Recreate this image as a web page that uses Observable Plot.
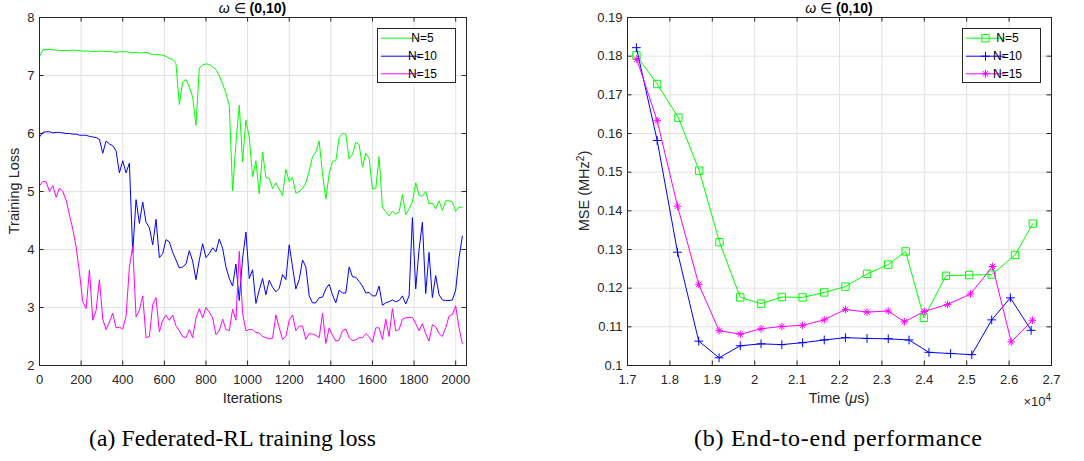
<!DOCTYPE html>
<html><head><meta charset="utf-8">
<script src="https://cdn.jsdelivr.net/npm/d3@7"></script>
<script src="https://cdn.jsdelivr.net/npm/@observablehq/plot@0.6"></script>
<style>
body{margin:0;background:#fff;}
#fig{position:relative;width:1084px;height:461px;overflow:hidden;background:#fff;}
#fig svg{position:absolute;top:0;}
</style></head><body><div id="fig"></div>
<script>
// ---------- data ----------
const seriesNames = ["N=5", "N=10", "N=15"];
const seriesColors = ["#00ff00", "#0000ff", "#ff00ff"];

const iterations = [0,16,32,48,64,80,96,112,128,144,
160,176,192,208,224,240,256,272,288,304,
320,336,352,368,384,400,416,432,448,464,
480,496,512,528,544,560,576,592,608,624,
640,656,672,688,704,720,736,752,768,784,
800,816,832,848,864,880,896,912,928,944,
960,976,992,1008,1024,1040,1056,1072,1088,1104,
1120,1136,1152,1168,1184,1200,1216,1232,1248,1264,
1280,1296,1312,1328,1344,1360,1376,1392,1408,1424,
1440,1456,1472,1488,1504,1520,1536,1552,1568,1584,
1600,1616,1632,1648,1664,1680,1696,1712,1728,1744,
1760,1776,1792,1808,1824,1840,1856,1872,1888,1904,
1920,1936,1952,1968,1984,2000,2016,2032];

const lossN5 = [7.33,7.44,7.45,7.45,7.44,7.44,7.43,7.43,7.43,7.43,
7.44,7.43,7.43,7.42,7.42,7.42,7.41,7.41,7.42,7.42,
7.41,7.41,7.41,7.40,7.41,7.41,7.41,7.40,7.39,7.40,
7.39,7.39,7.40,7.38,7.36,7.36,7.36,7.35,7.33,7.29,
7.28,7.20,6.50,6.89,6.93,6.80,6.63,6.14,7.13,7.18,
7.20,7.19,7.15,7.10,7.00,6.85,6.70,6.48,5.01,5.83,
6.49,5.51,6.23,5.94,5.25,5.53,4.96,5.68,5.24,5.23,
5.05,5.15,5.04,4.93,5.38,5.17,5.24,4.97,5.00,5.05,
5.15,5.35,5.60,5.68,5.87,5.30,4.87,5.30,5.52,5.53,
5.93,6.00,5.99,5.56,5.64,5.85,5.81,5.42,5.66,5.57,
5.04,5.05,5.60,4.73,4.65,4.58,4.66,4.61,4.65,4.95,
4.60,4.70,4.82,5.15,4.93,4.92,5.00,4.79,4.80,4.70,
4.84,4.67,4.84,4.84,4.82,4.66,4.73,4.73];

const lossN10 = [5.94,6.02,6.03,6.03,6.01,6.02,6.02,6.01,6.00,6.00,
5.99,5.99,5.97,5.97,5.97,5.95,5.94,5.93,5.90,5.66,
5.87,5.82,5.79,5.70,5.32,5.53,5.32,5.49,3.95,4.86,
4.45,4.82,4.47,4.38,4.08,4.52,3.86,3.93,4.17,4.13,
3.95,3.82,3.68,3.70,3.75,3.98,3.80,3.48,3.82,4.10,
3.86,3.93,4.03,3.96,4.18,4.02,3.70,3.50,3.37,3.75,
3.12,3.85,4.30,3.50,3.65,3.07,3.30,3.50,3.22,3.47,
3.35,3.27,3.33,3.57,3.48,4.08,3.70,3.32,3.48,3.82,
3.70,3.20,3.08,3.08,3.17,3.18,3.32,3.40,3.22,3.08,
3.30,3.25,3.25,3.70,3.53,3.52,3.45,3.37,3.25,3.26,
3.20,3.20,3.37,3.04,3.08,3.10,3.13,3.10,3.12,3.20,
3.06,3.20,4.55,3.32,4.00,4.47,3.24,3.95,3.17,3.55,
3.22,3.13,3.12,3.12,3.13,3.30,3.85,4.23];

const lossN15 = [5.10,5.17,5.17,5.00,5.10,4.90,5.06,5.00,4.85,4.60,
4.35,4.05,3.60,3.10,2.98,3.65,2.78,2.95,3.48,2.80,
2.62,2.75,2.90,2.65,2.66,2.63,2.85,3.70,4.05,2.84,
2.95,3.20,2.48,2.50,3.05,3.17,2.58,2.78,2.87,2.78,
2.87,2.68,2.60,2.50,2.48,2.62,2.48,2.82,2.98,2.82,
3.00,2.92,2.82,2.53,2.60,2.80,2.62,2.60,2.97,2.78,
3.97,2.90,2.60,2.62,2.62,2.57,2.56,2.50,2.48,2.46,
2.47,2.87,2.65,2.45,2.50,2.78,2.87,2.60,2.68,2.68,
2.45,2.55,2.54,2.52,2.48,2.90,2.38,2.65,2.52,2.42,
2.44,2.60,2.63,2.48,2.43,2.44,2.48,2.48,2.55,2.50,
2.40,2.65,2.65,2.45,2.80,2.50,2.98,2.60,2.62,2.80,
2.82,2.83,2.83,2.72,2.60,2.72,2.55,2.42,2.70,2.67,
2.55,2.50,2.65,2.85,2.88,3.03,2.65,2.38];

// time in units of 10^4 microseconds
const timeN5 = [1.721,1.770,1.820,1.869,1.917,1.966,2.015,2.064,2.113,2.164,2.214,2.265,2.315,2.356,2.399,2.451,2.506,2.559,2.614,2.656];
const mseN5 = [0.1802,0.1728,0.1641,0.1504,0.1319,0.1176,0.1160,0.1177,0.1176,0.1189,0.1204,0.1237,0.1261,0.1295,0.1123,0.1232,0.1234,0.1235,0.1286,0.1367];
const timeN10 = [1.721,1.770,1.818,1.868,1.916,1.966,2.015,2.064,2.113,2.164,2.214,2.265,2.315,2.364,2.411,2.462,2.512,2.559,2.603,2.652];
const mseN10 = [0.1822,0.1582,0.1293,0.1063,0.1020,0.1051,0.1056,0.1054,0.1059,0.1066,0.1072,0.1070,0.1069,0.1066,0.1034,0.1031,0.1028,0.1118,0.1175,0.1091];
const timeN15 = [1.722,1.770,1.818,1.868,1.916,1.966,2.015,2.064,2.113,2.164,2.214,2.265,2.315,2.353,2.400,2.455,2.509,2.561,2.605,2.655];
const mseN15 = [0.1792,0.1633,0.1412,0.1210,0.1090,0.1081,0.1095,0.1101,0.1104,0.1118,0.1145,0.1138,0.1141,0.1113,0.1140,0.1158,0.1185,0.1256,0.1061,0.1117];

const lossXTicks = [0,200,400,600,800,1000,1200,1400,1600,1800,2000];
const lossYTicks = [2,3,4,5,6,7,8];
const timeXTicks = [1.7,1.8,1.9,2.0,2.1,2.2,2.3,2.4,2.5,2.6,2.7];
const mseYTicks = [0.10,0.11,0.12,0.13,0.14,0.15,0.16,0.17,0.18,0.19];

const titleParts = [["ω", "italic", "normal"], [" ∈ ", "normal", "normal"], ["(0,10)", "normal", "bold"]];
const captionA = "(a) Federated-RL training loss";
const captionB = "(b) End-to-end performance";

// ---------- styling helpers ----------
const ink = "#262626";
const gridColor = "#e2e2e2";
const sans = "'Liberation Sans', Arial, Helvetica, sans-serif";
const H = 410, mT = 17, mB = 45;
const fh = H - mT - mB;
const tickLen = 4.5;

const half = size => Math.sqrt(size / Math.PI);
const symSquare = {draw(c, size) { const h = half(size); c.moveTo(-h, -h); c.lineTo(h, -h); c.lineTo(h, h); c.lineTo(-h, h); c.closePath(); }};
const symPlus = {draw(c, size) { const h = half(size); c.moveTo(-h, 0); c.lineTo(h, 0); c.moveTo(0, -h); c.lineTo(0, h); }};
const symStar = {draw(c, size) { const h = half(size), d = h * Math.SQRT1_2;
  c.moveTo(-h, 0); c.lineTo(h, 0); c.moveTo(0, -h); c.lineTo(0, h);
  c.moveTo(-d, -d); c.lineTo(d, d); c.moveTo(-d, d); c.lineTo(d, -d); }};
const markerSymbols = [symSquare, symPlus, symStar];
const markerR = [3.7, 4.4, 3.8];

function gridMarks(xTicks, yTicks) {
  return [
    Plot.ruleX(xTicks, {stroke: gridColor, strokeWidth: 1}),
    Plot.ruleY(yTicks, {stroke: gridColor, strokeWidth: 1})
  ];
}
function boxMarks(xTicks, yTicks, fw, xFmt, yFmt) {
  return [
    Plot.frame({stroke: ink, strokeWidth: 1}),
    Plot.ruleX(xTicks, {stroke: ink, insetTop: fh - tickLen}),
    Plot.ruleX(xTicks, {stroke: ink, insetBottom: fh - tickLen}),
    Plot.ruleY(yTicks, {stroke: ink, insetRight: fw - tickLen}),
    Plot.ruleY(yTicks, {stroke: ink, insetLeft: fw - tickLen}),
    Plot.axisX({ticks: xTicks, tickSize: 0, tickPadding: 9, tickFormat: xFmt, label: null}),
    Plot.axisY({ticks: yTicks, tickSize: 0, tickPadding: 5, tickFormat: yFmt, label: null})
  ];
}

function addTitle(svg, cx) {
  const t = d3.select(svg).append("text").attr("x", cx).attr("y", 13)
    .attr("text-anchor", "middle").attr("font-size", 14).attr("fill", "#000");
  titleParts.forEach(([s, st, w]) => t.append("tspan").attr("font-style", st).attr("font-weight", w).text(s));
}
function addLegend(svg, right, top, w, h, withMarkers) {
  const g = d3.select(svg).append("g");
  const x0 = right - w, y0 = top;
  g.append("rect").attr("x", x0 + 0.5).attr("y", y0 + 0.5).attr("width", w).attr("height", h)
    .attr("fill", "#fff").attr("stroke", ink).attr("stroke-width", 1);
  const rows = [10.2, 28.2, 45.8];
  seriesNames.forEach((name, i) => {
    const y = y0 + rows[i];
    g.append("line").attr("x1", x0 + 4).attr("x2", x0 + 43).attr("y1", y).attr("y2", y)
      .attr("stroke", seriesColors[i]).attr("stroke-width", 1);
    if (withMarkers) {
      const p = d3.path();
      markerSymbols[i].draw(p, Math.PI * markerR[i] * markerR[i]);
      g.append("path").attr("transform", `translate(${x0 + 23.5},${y})`).attr("d", p.toString())
        .attr("fill", "none").attr("stroke", seriesColors[i]).attr("stroke-width", 1);
    }
    g.append("text").attr("x", x0 + 45.5).attr("y", y).attr("dy", "0.35em")
      .attr("font-size", 12).attr("fill", "#000").text(name);
  });
}

const fig = document.getElementById("fig");

// ---------- (a) training loss ----------
{
  const W = 540, mL = 39, mR = 74, fw = W - mL - mR;
  const lossSeries = [lossN5, lossN10, lossN15];
  const svg = Plot.plot({
    width: W, height: H, marginLeft: mL, marginRight: mR, marginTop: mT, marginBottom: mB,
    style: {fontFamily: sans, fontSize: "13px", color: ink, background: "transparent", overflow: "visible"},
    x: {domain: [0, 2052]},
    y: {domain: [2, 8]},
    marks: [
      ...gridMarks(lossXTicks, lossYTicks),
      ...lossSeries.map((vals, k) => Plot.line(iterations, {
        x: d => d, y: (d, i) => vals[i], stroke: seriesColors[k], strokeWidth: 1})),
      ...boxMarks(lossXTicks, lossYTicks, fw, d => String(d), d => String(d))
    ]
  });
  svg.style.left = "0px";
  fig.appendChild(svg);
  addTitle(svg, mL + fw / 2);
  addLegend(svg, mL + fw - 11, mT + 11, 78, 54, false);
  const s = d3.select(svg);
  s.append("text").attr("x", mL + fw / 2).attr("y", 403).attr("text-anchor", "middle")
    .attr("font-size", 14.5).attr("fill", ink).text("Iterations");
  s.append("text").attr("transform", `translate(14,${mT + fh / 2}) rotate(-90)`).attr("text-anchor", "middle")
    .attr("dy", "0.35em").attr("font-size", 14.5).attr("fill", ink).text("Training Loss");
}

// ---------- (b) end-to-end performance ----------
{
  const W = 544, mL = 87, mR = 33, fw = W - mL - mR;
  const tSeries = [timeN5, timeN10, timeN15];
  const mSeries = [mseN5, mseN10, mseN15];
  const fmtX = d => String(+d.toFixed(1));
  const fmtY = d => String(+d.toFixed(2));
  const svg = Plot.plot({
    width: W, height: H, marginLeft: mL, marginRight: mR, marginTop: mT, marginBottom: mB,
    style: {fontFamily: sans, fontSize: "13px", color: ink, background: "transparent", overflow: "visible"},
    x: {domain: [1.7, 2.7]},
    y: {domain: [0.10, 0.19]},
    marks: [
      ...gridMarks(timeXTicks, mseYTicks),
      ...tSeries.flatMap((ts, k) => [
        Plot.line(ts, {x: d => d, y: (d, i) => mSeries[k][i], stroke: seriesColors[k], strokeWidth: 1}),
        Plot.dot(ts, {x: d => d, y: (d, i) => mSeries[k][i], symbol: markerSymbols[k], r: markerR[k],
          stroke: seriesColors[k], fill: "none", strokeWidth: 1})
      ]),
      ...boxMarks(timeXTicks, mseYTicks, fw, fmtX, fmtY)
    ]
  });
  svg.style.left = "540px";
  fig.appendChild(svg);
  addTitle(svg, mL + fw / 2);
  addLegend(svg, mL + fw - 11, mT + 11, 78, 54, true);
  const s = d3.select(svg);
  const xl = s.append("text").attr("x", mL + fw / 2).attr("y", 403).attr("text-anchor", "middle")
    .attr("font-size", 14.5).attr("fill", ink);
  xl.append("tspan").text("Time (");
  xl.append("tspan").attr("font-style", "italic").text("μ");
  xl.append("tspan").text("s)");
  const yl = s.append("text").attr("transform", `translate(44,${mT + fh / 2}) rotate(-90)`).attr("text-anchor", "middle")
    .attr("dy", "0.35em").attr("font-size", 14.5).attr("fill", ink);
  yl.append("tspan").text("MSE (MHz");
  yl.append("tspan").attr("dy", -5).attr("font-size", 10).text("2");
  yl.append("tspan").attr("dy", 5).text(")");
  const ex = s.append("text").attr("x", mL + fw).attr("y", 406).attr("text-anchor", "end")
    .attr("font-size", 13).attr("fill", ink);
  ex.append("tspan").text("×10");
  ex.append("tspan").attr("dy", -5).attr("font-size", 10).text("4");
}

// ---------- captions ----------
{
  const cap = d3.select(fig).append("svg").attr("width", 1084).attr("height", 461)
    .style("left", "0px").style("pointer-events", "none");
  const serif = "'Liberation Serif', 'DejaVu Serif', serif";
  cap.append("text").attr("x", 232.5).attr("y", 446).attr("text-anchor", "middle")
    .attr("textLength", 287).attr("lengthAdjust", "spacing")
    .attr("font-family", serif).attr("font-size", 23.5).attr("fill", "#000").text(captionA);
  cap.append("text").attr("x", 838).attr("y", 446).attr("text-anchor", "middle")
    .attr("textLength", 288).attr("lengthAdjust", "spacing")
    .attr("font-family", serif).attr("font-size", 24).attr("fill", "#000").text(captionB);
}
</script></body></html>
